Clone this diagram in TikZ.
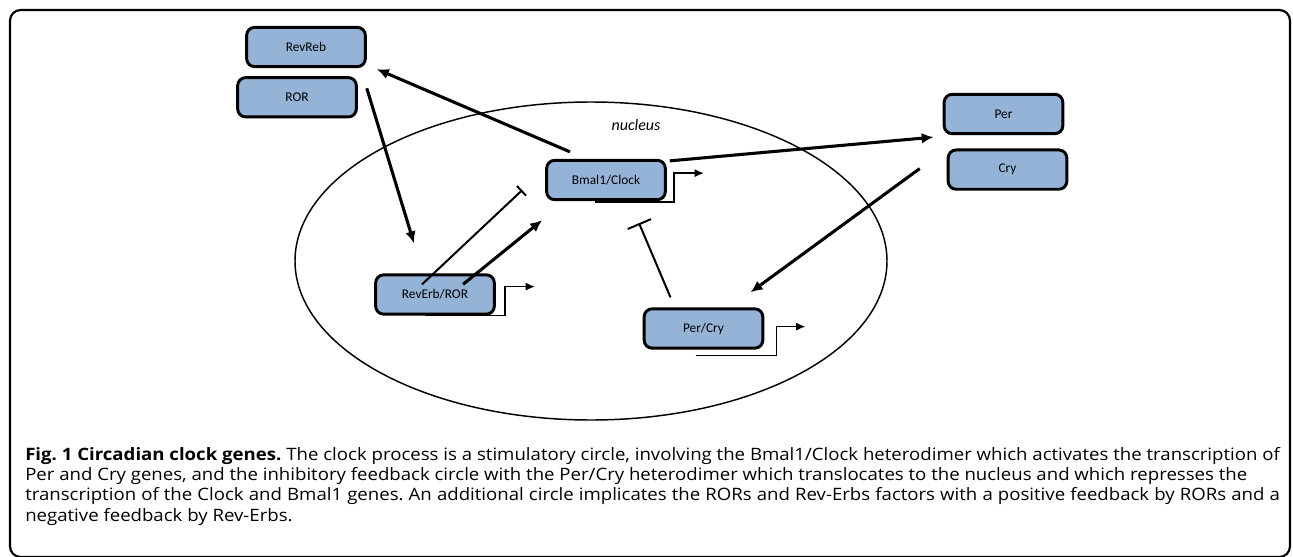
\documentclass[tikz,border=0pt]{standalone}
\usepackage{fontspec}
\setmainfont{Carlito}
\newfontfamily\capfont{Open Sans}[FakeStretch=1.09]
\usepackage{tikz}
\usetikzlibrary{arrows.meta,calc,positioning,shapes.geometric}
\definecolor{geneblue}{RGB}{149,179,215}

\begin{document}
\begin{tikzpicture}[x=0.75pt,y=-0.75pt,
		gene/.style={draw,rounded corners=6pt,fill=geneblue,line width=2.2pt,minimum width=89pt,minimum height=29.5pt,font=\fontsize{10}{12}\selectfont},
		act/.style={-{Latex[length=9pt,width=8pt]},line width=2.3pt},
		inh/.style={line width=1.5pt},
		prom/.style={-{Latex[length=7pt,width=6pt]},line width=1.1pt}]
		\useasboundingbox (0,0) rectangle (1293,557);
		\draw[line width=1.6pt,rounded corners=8pt] (10,10) rectangle (1290,557);
		\node[ellipse,draw,line width=1.1pt,minimum width=444pt,minimum height=238.5pt,inner sep=0pt] (nuc) at (591,261) {};
		\node[font=\fontsize{12}{14}\selectfont\itshape] (nuclabel) at (636,125) {nucleus};
		\node[gene] (revreb) at (306,47) {RevReb};
		\node[gene,below=6pt of revreb,xshift=-6.75pt] (ror) {ROR};
		\node[gene] (bmal) at (606,180) {Bmal1/Clock};
		\node[gene] (reverb) at (435,294.5) {RevErb/ROR};
		\node[gene] (percry) at (703.5,328.5) {Per/Cry};
		\node[gene] (per) at (1003.5,114) {Per};
		\node[gene,below=10pt of per,xshift=3pt] (cry) {Cry};
		\draw[act] ($(bmal.north)+(-36,-7)$) -- ($(revreb.south east)+(10,1)$);
		\draw[act] ($(ror.east)+(9,-9)$) -- ($(reverb.north)+(-21,-30)$);
		\draw[inh,-{Bar[width=10pt]}] ($(reverb.north)+(-13,11)$) -- ($(bmal.south west)+(-23,-11)$);
		\draw[act] ($(reverb.north)+(28,11)$) -- ($(bmal.south west)+(-3,19)$);
		\draw[act] ($(bmal.north east)+(3,2)$) -- ($(per.south west)+(-9,2)$);
		\draw[act] ($(cry.west)+(-27,-1)$) -- ($(percry.north)+(47,-15)$);
		\draw[inh,-{Bar[width=19pt]}] ($(percry.north)+(-33,-10)$) -- ($(bmal.south)+(33,22)$);
		% promoters
		\draw[prom] ($(bmal.south)+(-11,1)$) -- ++(79,0) -- ++(0,-29) -- ++(30,0);
		\draw[prom] ($(reverb.south)+(-10,0)$) -- ++(80,0) -- ++(0,-29) -- ++(30,0);
		\draw[prom] ($(percry.south)+(-8,6)$) -- ++(81,0) -- ++(0,-29) -- ++(29,0);
		\node[anchor=north west,inner sep=0pt,text width=941pt,align=justify,font=\capfont\fontsize{12.8}{15.2}\selectfont\frenchspacing] (caption) at (25,447) {\textbf{Fig. 1 Circadian clock genes.} The clock process is a stimulatory circle, involving the Bmal1/Clock heterodimer which activates the transcription of\linebreak Per and Cry genes, and the inhibitory feedback circle with the Per/Cry heterodimer which translocates to the nucleus and which represses the\newline transcription of the Clock and Bmal1 genes. An additional circle implicates the RORs and Rev-Erbs factors with a positive feedback by RORs and a\linebreak negative feedback by Rev-Erbs.};
	\end{tikzpicture}
\end{document}
